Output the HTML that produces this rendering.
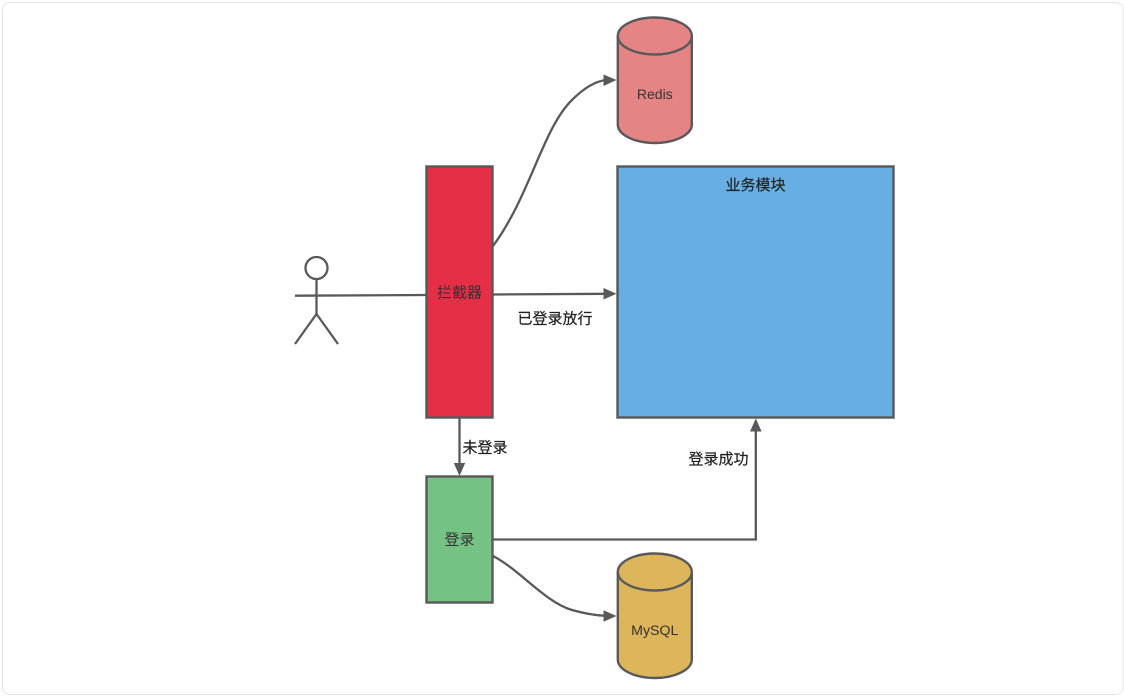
<!DOCTYPE html>
<html lang="zh">
<head>
<meta charset="utf-8">
<title>登录拦截流程图</title>
<style>
html,body{margin:0;padding:0;background:#fff;width:1124px;height:698px;overflow:hidden}
svg{display:block}
text{font-family:"Liberation Sans","Noto Sans CJK SC",sans-serif;font-size:15px;text-anchor:middle;fill:#333}
.lbl{fill:#222;stroke:#222;stroke-width:.2px}
.edge{fill:none;stroke:#595959;stroke-width:2.3}
.shape{stroke:#595959;stroke-width:2.4}
.head{fill:#595959;stroke:none}
</style>
</head>
<body>
<svg width="1124" height="698" viewBox="0 0 1124 698">
  <rect x="2.500" y="2.500" width="1120.500" height="692" rx="7" fill="#fff" stroke="#e6e6e6" stroke-width="1"/>

  <g fill="none" stroke="#595959" stroke-width="2.300">
    <circle cx="316.500" cy="268" r="11" fill="#fff"/>
    <path d="M316.500 279V314M316.500 314L295 344M316.500 314L338 344"/>
  </g>
  <path class="edge" d="M295 295.700L426 295"/>

  <rect class="shape" x="426.500" y="166.500" width="66" height="251" fill="#e62e47"/>
  <text x="459.500" y="297.500">拦截器</text>

  <rect class="shape" x="426.500" y="476.500" width="66" height="126" fill="#75c285"/>
  <text x="459.500" y="544.500">登录</text>

  <rect class="shape" x="617.500" y="166.500" width="276" height="251" fill="#67afe3"/>
  <text class="lbl" x="755.500" y="190">业务模块</text>

  <g>
    <path class="shape" fill="#e58484" d="M617.800 36V124.500A37 18.500 0 0 0 691.800 124.500V36A37 18.500 0 0 0 617.800 36Z"/>
    <path class="shape" fill="none" d="M617.800 36A37 18.500 0 0 0 691.800 36"/>
    <text x="654.800" y="99" style="font-size:14px">Redis</text>
  </g>

  <g>
    <path class="shape" fill="#ddb65b" d="M617.800 572V659.500A37 18.500 0 0 0 691.800 659.500V572A37 18.500 0 0 0 617.800 572Z"/>
    <path class="shape" fill="none" d="M617.800 572A37 18.500 0 0 0 691.800 572"/>
    <text x="654.800" y="635" style="font-size:14.200px">MySQL</text>
  </g>

  <path class="edge" d="M493 246C530 196 543 128 572 100C586 86 597 81 606 80"/>
  <path class="head" d="M616.500 80L603.500 74.500V86Z"/>

  <path class="edge" d="M493 294.500L606 293.800"/>
  <path class="head" d="M616.500 293.700L603.500 288V299.500Z"/>
  <text class="lbl" x="555" y="323.500">已登录放行</text>

  <path class="edge" d="M459.500 418V465"/>
  <path class="head" d="M459.500 476L453.800 463H465.200Z"/>
  <text class="lbl" x="485" y="452.500">未登录</text>

  <path class="edge" d="M493 539.500H755.800V430"/>
  <path class="head" d="M755.800 418.500L750 431.500H761.600Z"/>
  <text class="lbl" x="718.500" y="464">登录成功</text>

  <path class="edge" d="M493 556C520 570 545 602 572 610C586 614 597 615.500 606 615.800"/>
  <path class="head" d="M616.500 616L603.500 610.300V621.700Z"/>
</svg>
</body>
</html>
